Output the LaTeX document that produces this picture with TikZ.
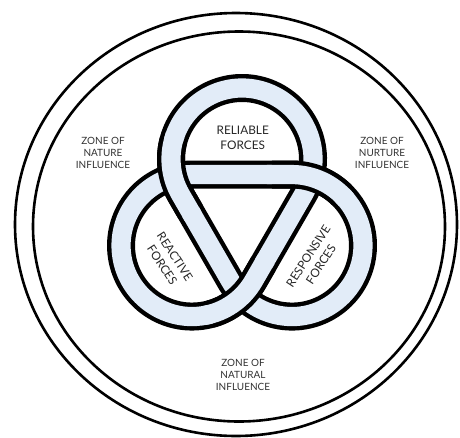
\documentclass[tikz,border=0pt]{standalone}
\usepackage{fontspec}
\setmainfont{Lato}
\usepackage{xcolor}
\usepackage{tikz}
\usetikzlibrary{calc}

\definecolor{knotblue}{RGB}{226,236,248}

\begin{document}
\begin{tikzpicture}[x=0.025cm, y=0.025cm,
        ring/.style={draw=black, line width=0.65mm},
        band/.style={draw=black, line width=1.1mm, double=knotblue, double distance=4.8mm},
        bandedge/.style={draw=black, line width=7mm},
        bandfill/.style={draw=knotblue, line width=4.8mm},
        lobetext/.style={align=center, text=black!85, font=\fontsize{8.4}{10.8}\selectfont},
        zonetext/.style={align=center, text=black!80, font=\fontsize{7.1}{8.6}\selectfont}
    ]
        \useasboundingbox (0,0) rectangle (460,437);
        \def\rr{71}
        \coordinate (O) at (242,220.3);
        \coordinate (lobeT) at ($(O)+(90:57.7)$);
        \coordinate (lobeL) at ($(O)+(210:57.7)$);
        \coordinate (lobeR) at ($(O)+(330:57.7)$);

        % the two rings
        \draw[ring] (236,212.5) ellipse [x radius=221, y radius=211.5];
        \draw[ring] (239,210.5) ellipse [x radius=206, y radius=195];

        % whole knot
        \draw[band] ($(lobeT)+(-30:\rr)$) arc [start angle=-30, end angle=210, radius=\rr]
            -- ($(lobeR)+(210:\rr)$) arc [start angle=210, end angle=450, radius=\rr]
            -- ($(lobeL)+(90:\rr)$) arc [start angle=90, end angle=330, radius=\rr]
            -- cycle;

        % strands passing over: edge first, then a slightly longer fill
        \draw[bandedge] ($(lobeT)+(165:\rr)$) arc [start angle=165, end angle=210, radius=\rr] -- ++(300:20);
        \draw[bandfill] ($(lobeT)+(160:\rr)$) arc [start angle=160, end angle=210, radius=\rr] -- ++(300:25);
        \draw[bandedge] ($(lobeR)+(405:\rr)$) arc [start angle=405, end angle=450, radius=\rr] -- ++(180:20);
        \draw[bandfill] ($(lobeR)+(400:\rr)$) arc [start angle=400, end angle=450, radius=\rr] -- ++(180:25);
        \draw[bandedge] ($(lobeL)+(285:\rr)$) arc [start angle=285, end angle=330, radius=\rr] -- ++(60:20);
        \draw[bandfill] ($(lobeL)+(280:\rr)$) arc [start angle=280, end angle=330, radius=\rr] -- ++(60:25);

        \node[lobetext] (reliable) at ($(lobeT)+(88:21)$) {RELIABLE\\FORCES};
        \node[lobetext, rotate=-57] (reactive) at ($(lobeL)+(213:28)$) {REACTIVE\\FORCES};
        \node[lobetext, rotate=57] (responsive) at ($(lobeR)+(327:27)$) {RESPONSIVE\\FORCES};

        \node[zonetext] (nature) at (103,284) {ZONE OF\\NATURE\\INFLUENCE};
        \node[zonetext] (nurture) at (382,284) {ZONE OF\\NURTURE\\INFLUENCE};
        \node[zonetext] (natural) at (243,62) {ZONE OF\\NATURAL\\INFLUENCE};
    \end{tikzpicture}
\end{document}
